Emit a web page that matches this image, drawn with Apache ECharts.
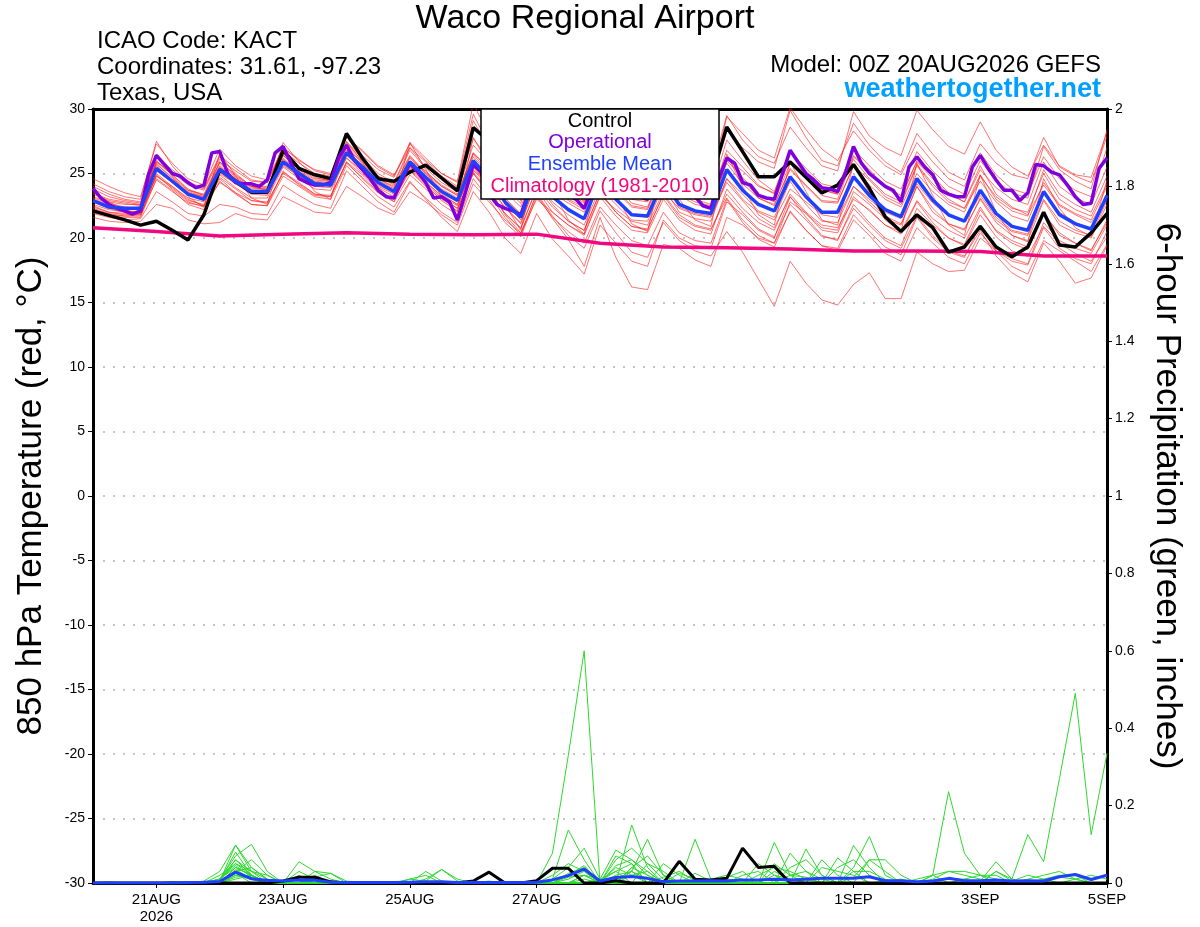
<!DOCTYPE html>
<html><head><meta charset="utf-8">
<script src="https://cdn.jsdelivr.net/npm/echarts@6/dist/echarts.min.js"></script>
<style>html,body{margin:0;padding:0;background:#fff}#c{width:1200px;height:927px}</style>
</head><body><div id="c"></div>
<script>
// ---- x axis (index in 6-hour steps from 00Z 20AUG2026) ----
const xTickValues = [4, 12, 20, 28, 36, 48, 56, 64];
const xTickLabels = ['21AUG\n2026', '23AUG', '25AUG', '27AUG', '29AUG', '1SEP', '3SEP', '5SEP'];

// ---- 850 hPa temperature, 6-hourly (65 values) ----
const control = [22.1,
 21.75,21.4,21.0,21.3, 20.6,19.85,21.8,25.3, 24.4,23.55,23.55,26.8, 25.4,24.9,24.6,28.1,
 26.2,24.6,24.4,25.1, 25.65,24.65,23.65,28.55, 27.5,26.0,25.0,27.8, 26.8,25.5,24.8,27.6,
 26.5,25.4,24.6,27.2, 26.0,25.0,24.5,28.6, 26.7,24.75,24.75,25.9, 24.7,23.5,24.1,25.7,
 23.85,21.65,20.5,21.8, 20.8,18.9,19.3,20.9, 19.3,18.55,19.3,22.0, 19.45,19.3,20.4,21.9];
const ensMean = [22.9,
 22.4,22.3,22.3,25.4, 24.4,23.4,23.0,25.3, 24.4,23.6,23.6,25.9, 25.0,24.2,24.1,26.6,
 25.5,24.3,23.6,25.9, 24.7,23.6,22.9,26.0, 24.6,22.8,21.6,25.0, 23.2,22.2,21.5,24.6,
 23.0,21.8,21.7,24.5, 22.6,22.1,21.9,25.3, 23.7,22.6,22.1,24.75, 23.2,22.0,22.0,24.75,
 23.3,22.2,21.65,24.6, 22.95,21.8,21.3,23.7, 21.9,20.9,20.6,23.6, 21.8,21.1,20.7,23.3];
// operational run, 3-hourly (129 values)
const operational = [
 23.85,23.1,22.6,22.3,22.1,21.85,22.1,24.9,26.4,25.7,25.0,24.8,24.3,23.9,24.1,26.6,
 26.7,25.0,24.3,24.2,24.2,24.0,24.5,26.6,27.1,25.8,24.6,24.3,24.1,24.1,24.3,26.2,
 27.2,26.0,25.3,24.6,23.7,23.2,23.1,24.5,25.8,25.1,24.3,23.1,23.2,22.8,21.4,23.5,
 25.7,25.1,23.4,22.6,22.3,22.1,21.8,23.6,25.6,25.0,24.2,23.6,23.3,23.0,22.3,23.8,
 25.8,25.2,24.5,24.0,23.5,23.2,23.0,24.0,25.9,25.2,24.4,23.8,23.2,22.5,22.3,24.6,
 26.2,25.8,24.3,24.1,23.3,23.1,23.0,24.9,26.8,25.9,25.0,24.5,23.9,23.8,23.6,25.1,
 27.1,25.8,25.0,24.5,24.0,23.7,22.8,25.5,26.3,25.5,24.9,23.7,23.4,23.2,23.2,25.5,
 26.4,25.4,24.5,23.7,23.7,22.9,23.5,25.7,25.6,25.1,24.9,24.1,23.2,22.6,22.7,25.4,
 26.2];
// climatology, daily at 00Z
const climoIdx = [0,4,8,12,16,20,24,28,32,36,40,44,48,52,56,60,64];
const climo = [20.8,20.5,20.15,20.3,20.4,20.3,20.25,20.3,19.6,19.3,19.25,19.15,19.0,19.0,18.95,18.6,18.6];

// ensemble members
const tMem01 = [24.6,
 24.0,23.5,23.2,27.3, 25.8,24.6,24.1,26.9, 25.6,24.8,24.5,27.0, 26.0,25.3,25.0,27.9,
 26.7,25.5,24.8,27.4, 26.2,25.0,24.3,29.6, 27.2,25.1,23.8,27.6, 25.9,24.3,23.4,26.9,
 25.1,23.7,23.2,26.4, 24.8,23.9,23.5,27.6, 26.0,24.5,23.6,26.8, 25.0,23.8,23.4,26.1,
 24.6,23.4,22.8,25.7, 24.2,23.0,22.3,24.9, 23.0,22.1,21.7,25.3, 23.4,22.6,22.0,24.8];
const tMem02 = [21.9,
 21.6,21.4,21.5,23.6, 22.8,21.9,21.7,22.6, 22.4,21.9,21.8,24.1, 23.3,22.6,22.3,25.2,
 24.0,22.8,22.0,24.3, 23.1,22.0,21.2,24.6, 23.0,21.2,20.1,23.2, 21.6,20.5,19.6,22.4,
 21.0,19.8,19.4,22.0, 20.4,19.8,19.6,23.0, 21.2,19.9,19.3,22.1, 20.6,19.4,19.2,21.8,
 20.5,19.3,18.7,21.6, 20.0,18.9,18.5,21.0, 19.0,18.2,17.9,20.8, 19.2,18.4,18.0,20.5];
const tMem03 = [23.2,
 22.8,22.6,22.6,26.0, 24.9,23.8,23.3,25.9, 24.9,24.0,24.0,26.5, 25.5,24.6,24.5,27.2,
 26.0,24.8,24.2,26.8, 25.4,24.3,23.6,27.2, 25.8,24.0,22.9,26.6, 24.9,23.8,23.1,26.5,
 25.0,23.9,23.8,27.0, 25.3,24.7,24.5,28.4, 27.0,25.9,25.4,29.9, 27.8,26.0,25.6,28.9,
 27.2,25.9,25.1,28.1, 26.5,25.1,24.5,27.3, 25.8,24.9,24.6,27.8, 25.5,24.8,24.3,27.9];
const tMem04 = [22.5,
 22.0,21.9,21.8,25.0, 24.0,23.0,22.5,24.7, 23.8,22.9,22.7,25.1, 24.3,23.4,23.2,25.9,
 24.6,23.5,22.8,24.9, 23.8,22.6,21.8,25.0, 23.4,21.6,20.2,23.5, 21.7,20.2,19.2,22.1,
 20.4,18.9,18.5,21.2, 19.8,19.0,18.6,20.5, 18.9,16.8,14.7,18.2, 16.5,15.2,14.8,16.4,
 17.3,15.3,15.3,18.9, 18.0,17.4,17.5,20.0, 19.0,18.4,18.0,21.2, 19.8,19.2,18.8,21.0];
const tMem05 = [23.6,
 22.8,22.2,21.9,26.5, 24.8,23.2,22.4,26.6, 24.8,23.1,22.6,26.9, 25.2,23.6,23.0,27.5,
 25.9,23.9,22.8,27.4, 25.3,23.2,22.0,27.8, 25.6,22.6,20.6,26.0, 23.7,21.4,20.3,25.6,
 23.4,21.1,20.5,25.8, 23.0,21.4,20.9,26.5, 24.0,21.8,21.0,25.9, 23.6,21.4,21.0,25.7,
 23.5,21.4,20.5,25.8, 23.3,21.0,20.2,24.9, 22.0,20.2,19.7,24.6, 22.3,20.8,20.1,24.5];
const tMem06 = [22.8,
 22.3,22.0,22.1,24.8, 24.0,23.1,22.8,25.0, 24.2,23.5,23.4,25.6, 24.8,24.1,24.0,26.2,
 25.2,24.1,23.5,25.6, 24.3,23.3,22.6,25.5, 24.0,22.4,21.2,24.3, 22.8,21.8,21.0,23.9,
 22.6,21.4,21.3,24.0, 22.0,21.5,21.3,24.6, 23.4,22.1,21.6,24.4, 22.6,21.3,21.2,24.0,
 22.8,21.7,21.1,24.0, 22.3,21.1,20.7,23.0, 21.2,20.2,19.8,22.9, 21.0,20.4,20.0,22.6];
const tMem07 = [23.8,
 23.2,22.9,22.7,25.9, 25.1,24.1,23.7,26.1, 25.2,24.4,24.3,26.8, 25.8,25.0,24.8,27.4,
 26.4,25.3,24.7,27.3, 26.0,25.0,24.4,30.4, 28.0,25.5,24.0,27.1, 25.4,24.0,22.8,25.6,
 24.2,22.7,22.4,25.2, 23.6,23.0,22.6,26.3, 24.6,23.1,22.5,25.4, 24.1,22.9,22.8,25.6,
 24.5,23.2,22.6,25.6, 24.0,22.8,22.3,24.4, 22.8,21.7,21.3,24.3, 22.6,21.9,21.4,24.0];
const tMem08 = [22.2,
 21.8,21.7,21.7,24.9, 23.8,22.8,22.4,24.6, 23.5,22.6,22.5,24.8, 24.0,23.2,23.0,25.6,
 24.4,23.2,22.4,24.4, 23.0,21.6,20.5,23.6, 22.0,20.0,18.8,21.9, 19.9,18.6,17.2,21.0,
 19.6,18.2,17.8,21.4, 20.0,19.4,19.2,22.8, 21.8,20.6,20.0,23.2, 21.6,20.2,19.8,22.6,
 21.2,20.0,19.4,22.3, 21.0,20.0,19.5,22.2, 20.6,19.8,19.3,22.0, 20.2,19.6,19.0,21.4];
const tMem09 = [23.4,
 22.9,22.7,22.5,25.7, 24.7,23.7,23.3,25.6, 24.6,23.8,23.8,26.2, 25.1,24.3,24.2,26.7,
 25.7,24.6,24.0,26.4, 25.0,24.0,23.3,26.6, 25.4,23.8,22.7,26.8, 25.3,24.6,24.0,27.9,
 26.3,25.1,24.8,28.1, 26.0,25.3,25.0,29.5, 27.6,26.3,25.8,28.6, 27.0,25.6,25.2,29.8,
 27.9,27.0,26.4,29.9, 28.4,27.1,26.5,29.0, 26.8,25.5,24.8,27.2, 25.6,24.9,24.7,28.2];
const tMem10 = [22.6,
 22.2,22.0,22.0,25.2, 24.3,23.3,22.9,25.1, 24.2,23.4,23.3,25.7, 24.8,24.0,23.9,26.4,
 25.3,24.0,23.4,25.5, 24.4,23.2,22.5,25.6, 24.1,22.3,21.1,24.4, 22.6,21.3,20.6,23.6,
 22.0,20.9,20.6,23.4, 21.8,21.0,20.7,23.1, 21.4,20.2,19.6,22.0, 20.6,19.4,19.0,21.4,
 20.2,18.8,18.2,20.8, 19.6,18.5,18.0,20.4, 19.0,17.8,17.2,19.8, 19.0,18.2,17.4,19.5];
const tMem11 = [23.0,
 22.6,22.3,22.4,25.6, 24.5,23.5,23.2,25.5, 24.6,23.7,23.6,26.1, 25.2,24.3,24.2,26.8,
 25.6,24.5,23.8,26.2, 25.0,23.8,23.1,26.3, 24.9,23.1,21.9,25.4, 23.8,22.9,22.2,25.3,
 23.6,22.4,22.2,25.0, 23.4,22.8,22.5,25.8, 24.2,23.1,22.6,25.3, 24.0,22.8,22.7,25.6,
 24.1,23.0,22.4,25.0, 23.6,22.6,22.0,24.8, 23.2,22.3,22.0,25.0, 23.0,22.2,21.7,24.2];
const tMem12 = [22.3,
 21.9,21.7,21.8,24.5, 23.6,22.7,22.5,24.3, 23.5,22.9,22.8,25.0, 24.2,23.4,23.3,25.8,
 24.7,23.6,23.0,25.2, 24.0,23.0,22.3,25.0, 23.6,21.9,20.8,23.8, 22.0,21.0,20.2,23.2,
 21.7,20.6,20.4,23.0, 21.4,20.6,20.3,23.8, 22.3,21.2,20.6,23.4, 22.0,21.0,20.8,23.0,
 22.2,21.0,20.5,22.9, 21.5,20.6,20.0,22.4, 20.5,19.6,19.1,21.8, 20.4,19.6,19.1,21.2];
const tMem13 = [24.2,
 23.6,23.2,23.0,27.5, 25.6,24.2,23.8,26.3, 25.0,24.0,23.7,27.4, 25.9,24.7,24.4,27.3,
 26.2,25.0,24.3,27.0, 25.5,24.6,23.9,27.7, 26.1,24.2,23.0,26.1, 24.3,23.0,22.4,25.1,
 23.8,22.5,22.3,25.2, 23.3,22.6,22.4,26.0, 24.7,23.4,22.8,25.8, 24.6,23.3,23.0,26.3,
 25.2,23.9,23.1,26.0, 24.8,23.5,22.8,25.6, 23.4,22.4,21.8,24.1, 22.5,21.8,21.2,23.3];
const tMem14 = [21.6,
 21.3,21.2,21.3,22.6, 22.3,21.4,21.1,21.2, 21.9,21.5,21.4,23.2, 22.6,22.0,21.9,24.0,
 23.2,22.3,21.8,23.6, 22.8,21.8,21.0,24.2, 22.8,21.4,20.4,23.0, 22.0,21.0,20.3,23.3,
 22.2,21.3,21.0,23.6, 22.3,21.8,21.6,24.6, 23.0,22.0,21.4,23.8, 22.8,21.8,21.6,24.0,
 23.0,22.0,21.5,24.2, 22.7,21.7,21.3,23.3, 21.6,20.6,20.3,23.5, 22.0,21.2,20.7,23.2];
const tMem15 = [22.9,
 22.4,22.2,22.3,25.3, 24.4,23.4,23.0,25.4, 24.5,23.7,23.6,26.0, 25.1,24.3,24.1,26.6,
 25.5,24.3,23.6,25.8, 24.6,23.4,22.6,25.3, 23.9,21.8,20.4,23.4, 21.5,19.9,17.8,21.6,
 18.5,16.2,16.0,19.5, 19.2,18.3,17.8,21.6, 21.0,20.0,19.6,22.8, 21.9,20.8,20.6,23.6,
 22.6,21.5,21.0,24.0, 22.0,21.1,20.6,23.1, 21.4,20.5,20.2,23.0, 21.3,20.6,20.2,22.9];
const tMem16 = [23.1,
 22.7,22.4,22.3,25.9, 24.9,23.7,23.4,25.9, 24.8,24.0,23.9,26.4, 25.4,24.5,24.4,27.0,
 25.9,24.8,24.1,26.3, 25.1,24.1,23.4,26.6, 25.3,23.6,22.4,25.7, 24.6,23.5,22.9,26.2,
 24.9,23.6,23.3,26.7, 25.4,24.6,24.1,29.4, 28.1,26.8,26.2,30.1, 28.4,26.9,26.0,28.3,
 26.8,25.6,24.9,27.4, 25.9,24.6,24.0,26.6, 24.9,23.8,23.4,26.3, 24.6,23.7,23.2,27.0];
const tMem17 = [22.0,
 21.7,21.6,21.6,24.6, 23.7,22.6,22.2,24.4, 23.4,22.6,22.5,25.2, 24.1,23.3,23.2,25.9,
 24.9,23.7,23.0,25.3, 24.1,22.9,22.1,25.2, 24.4,22.7,21.4,24.6, 23.5,22.7,22.0,24.9,
 22.9,21.8,21.6,24.1, 22.4,21.9,21.7,24.3, 22.9,21.5,20.8,23.2, 21.9,20.6,20.4,23.2,
 22.1,21.0,20.3,22.8, 21.2,20.0,19.4,21.8, 20.1,19.0,18.6,20.9, 19.6,18.8,18.2,20.1];
const tMem18 = [24.0,
 23.4,23.0,22.8,26.3, 25.3,24.3,23.9,26.4, 25.4,24.5,24.3,27.0, 26.1,25.2,24.9,27.8,
 26.8,25.6,24.9,27.0, 25.9,24.8,24.0,29.1, 27.0,25.1,23.7,26.4, 25.0,23.6,22.7,25.5,
 24.2,23.0,22.8,25.4, 24.0,23.4,23.1,26.1, 25.2,24.0,23.5,26.6, 25.4,24.2,23.9,26.9,
 25.6,24.4,23.8,26.7, 25.2,24.0,23.4,26.0, 24.4,23.5,23.1,27.1, 25.3,24.4,23.8,28.4];
const tMem19 = [22.4,
 22.0,21.8,21.9,24.8, 23.9,22.9,22.6,24.9, 23.9,23.1,23.1,25.5, 24.6,23.8,23.7,26.2,
 25.0,23.9,23.2,25.4, 24.2,23.1,22.3,25.1, 23.7,21.9,20.7,23.9, 22.4,21.3,20.6,23.5,
 22.0,20.9,20.7,23.3, 21.6,20.9,20.6,23.4, 22.0,20.7,20.1,22.6, 21.4,20.1,19.9,22.3,
 21.0,19.8,19.2,21.7, 20.2,19.0,18.6,20.6, 18.6,17.3,16.6,19.6, 18.2,16.5,16.9,19.4];
const tMem20 = [23.5,
 23.0,22.8,22.6,25.8, 24.6,23.6,23.2,25.8, 24.7,23.9,23.8,26.4, 25.3,24.4,24.3,27.0,
 25.8,24.6,23.9,26.0, 25.2,24.0,23.3,26.5, 25.0,23.0,21.8,25.6, 24.2,23.2,22.5,25.8,
 24.4,23.2,22.9,25.9, 24.1,23.4,23.1,26.8, 25.5,24.1,23.4,26.0, 25.0,23.7,23.4,26.4,
 25.3,24.0,23.3,25.9, 24.6,23.4,22.8,25.3, 23.9,23.0,22.6,25.9, 24.0,23.1,22.6,25.5];
const tempMembers = [tMem01,tMem02,tMem03,tMem04,tMem05,tMem06,tMem07,tMem08,tMem09,tMem10,
                     tMem11,tMem12,tMem13,tMem14,tMem15,tMem16,tMem17,tMem18,tMem19,tMem20];

// ---- 6-hour precipitation (inches), 65 values ----
const pControl = [0,
 0,0,0,0, 0,0,0,0, 0,0,0,.005, .015,.015,.003,0,
 0,0,0,0, 0,0,0,.005, .028,0,0,.006, .038,.038,0,0,
 .006,0,0,0, .056,.01,.008,.012, .09,.04,.043,0, 0,0,0,0,
 0,0,0,0, 0,0,0,0, 0,0,0,0, 0,0,0,0];
const pMean = [0,
 0,0,0,0, 0,.001,.002,.004, .028,.011,.007,.005, .008,.007,.002,.001,
 .001,.001,.001,.002, .003,.003,.001,.001, .001,.001,.001,.002, .008,.019,.036,.005,
 .014,.017,.012,.003, .005,.005,.006,.005, .008,.008,.01,.008, .01,.012,.012,.012,
 .016,.006,.006,.003, .005,.012,.006,.006, .008,.005,.006,.005, .016,.022,.009,.02];
const pMem01 = [0,
 0,0,0,0, 0,0,0,.01, .04,.02,0,0, 0,0,0,0,
 0,0,0,0, 0,0,0,0, 0,0,0,0, .077,.33,.6,0,
 0,0,0,0, 0,0,0,0, 0,0,.03,.01, 0,0,0,0,
 0,0,0,0, 0,0,0,0, 0,0,0,0, 0,0,0,0];
const pMem02 = [0,
 0,0,0,0, 0,0,0,.005, .098,.03,0,0, .02,0,0,0,
 0,0,0,0, 0,0,0,0, 0,0,0,0, .01,.137,.06,0,
 0,.15,.04,0, 0,.113,.01,0, 0,0,0,0, 0,0,0,.04,
 .12,.02,0,0, 0,0,0,0, 0,0,0,0, 0,0,0,0];
const pMem03 = [0,
 0,0,0,0, 0,0,0,.01, .07,.1,.03,0, 0,.03,.025,0,
 0,0,0,0, 0,0,0,0, 0,0,0,0, 0,0,0,.01,
 .085,.06,.02,0, 0,0,0,0, 0,0,.105,.02, 0,0,0,0,
 0,0,0,0, 0,0,0,0, 0,0,0,0, 0,0,0,0];
const pMem04 = [0,
 0,0,0,0, 0,0,0,0, .03,.01,0,0, 0,0,0,0,
 0,0,0,0, .01,.035,.005,0, 0,0,0,0, 0,0,0,0,
 0,0,0,0, 0,0,0,0, 0,0,0,0, 0,0,0,0,
 0,0,0,0, 0,0,0,.005, .055,.01,.125,.055, .27,.49,.125,.335];
const pMem05 = [0,
 0,0,0,0, 0,0,0,.02, .05,.02,0,0, 0,0,0,0,
 0,0,0,0, .03,.005,0,0, 0,0,0,0, 0,0,0,0,
 0,0,0,0, 0,0,0,0, 0,0,0,0, 0,.06,.02,0,
 0,0,0,0, .02,.236,.077,.02, .01,0,0,0, 0,0,0,0];
const pMem06 = [0,
 0,0,0,0, 0,0,.005,.03, .098,.04,.01,0, .055,.03,.01,0,
 0,0,0,0, 0,0,0,0, 0,0,0,0, 0,0,0,0,
 0,.03,.113,.02, 0,0,0,0, .02,.03,0,0, .088,.02,0,0,
 0,0,0,0, 0,0,0,0, 0,0,0,0, 0,0,0,0];
const pMem07 = [0,
 0,0,0,0, 0,0,0,0, .02,.015,0,0, 0,0,0,0,
 0,0,0,.01, .005,.035,.01,0, 0,0,0,0, .02,.05,.03,0,
 .07,.05,0,0, 0,0,0,0, 0,0,0,0, 0,0,.065,.03,
 0,0,0,0, 0,0,0,0, .03,.01,0,0, 0,0,0,0];
const pMem08 = [0,
 0,0,0,0, 0,0,0,0, .04,.02,0,0, 0,0,0,0,
 0,0,0,0, 0,0,0,0, 0,0,0,0, 0,.02,.045,0,
 .045,.06,.03,0, 0,0,0,.015, .03,0,0,.077, .03,0,0,0,
 .06,.06,.02,0, 0,0,0,0, 0,0,0,0, 0,0,0,0];
const pMem09 = [0,
 0,0,0,0, 0,0,0,.005, .06,.03,.01,0, 0,.02,0,0,
 0,0,0,0, 0,0,0,0, 0,0,0,0, .01,.04,.09,.01,
 0,0,0,.05, .02,0,0,0, 0,0,0,0, 0,0,0,.097,
 .04,0,0,0, .01,.03,.03,.02, 0,0,0,0, 0,0,0,0];
const pMem10 = [0,
 0,0,0,0, 0,0,0,0, .03,.06,.02,0, 0,0,0,0,
 0,0,0,0, 0,0,0,0, 0,0,0,0, 0,0,0,0,
 0,.04,.07,.02, 0,0,0,0, 0,0,.05,.02, .015,0,0,0,
 0,0,0,.01, .02,0,0,0, 0,0,0,.01, .02,.02,0,0];
const pMem11 = [0,
 0,0,0,0, 0,0,0,.01, .045,.015,0,0, .01,0,0,0,
 0,0,0,0, 0,0,0,0, 0,0,0,0, 0,0,.02,.01,
 .03,.05,0,0, 0,.025,.005,0, 0,.05,.02,0, 0,0,0,0,
 0,0,0,0, 0,0,0,0, .03,.005,0,0, 0,0,0,0];
const pMem12 = [0,
 0,0,0,0, 0,0,0,0, .01,.02,0,0, 0,0,0,0,
 0,0,0,0, 0,0,0,0, .005,0,0,0, 0,.01,.03,0,
 0,0,0,0, .025,.01,0,0, 0,0,0,0, 0,.04,.03,.02,
 0,0,0,0, 0,0,.01,.02, .02,0,0,0, .015,.01,0,0];
const pMem13 = [0,
 .003,0,0,0, 0,0,0,0, .035,.01,0,0, 0,.01,.005,0,
 0,0,0,0, 0,0,0,0, 0,0,0,0, 0,0,0,0,
 .02,.03,0,0, 0,0,0,.01, .005,0,0,.04, .06,.02,0,0,
 0,0,0,0, 0,0,0,0, 0,0,0,0, 0,0,0,0];
const pMem14 = [0,
 0,0,0,0, .004,0,0,0, .025,0,0,0, 0,0,0,0,
 0,0,0,0, 0,0,0,.003, 0,0,0,0, 0,.025,.04,0,
 .06,.09,.05,.01, 0,0,0,0, 0,0,0,0, 0,0,0,.03,
 .03,.01,0,0, 0,0,0,0, 0,0,0,0, 0,0,0,0];
const pMem15 = [0,
 0,0,0,0, 0,0,0,0, .015,.02,0,0, 0,0,0,0,
 0,0,0,.01, .02,0,0,0, 0,0,0,0, 0,0,0,.005,
 .03,0,.05,.03, 0,0,0,0, 0,.02,.04,.03, .01,0,0,0,
 0,0,0,0, 0,0,0,0, 0,0,0,0, 0,0,0,0];
const pMem16 = [0,
 0,0,0,0, 0,0,0,.01, .05,.03,.02,0, .03,.01,0,0,
 0,0,0,0, 0,0,0,0, 0,0,0,0, 0,0,.02,0,
 0,.04,.02,0, 0,0,0,0, 0,0,0,0, 0,0,.04,.06,
 .02,0,0,0, 0,0,0,0, 0,0,.01,.02, .03,.01,0,0];
const pMem17 = [0,
 0,0,0,0, 0,0,0,0, .02,.01,0,0, 0,0,0,0,
 0,0,0,0, 0,0,0,0, 0,0,0,0, 0,0,0,0,
 0,.02,.03,0, 0,0,.01,.02, .01,0,0,0, 0,0,0,0,
 0,0,0,0, .005,.01,.01,0, 0,0,0,0, 0,0,0,0];
const pMem18 = [0,
 0,0,0,0, 0,0,0,.01, .06,.02,0,0, 0,0,0,0,
 0,0,0,0, 0,0,0,0, 0,0,0,0, 0,0,.01,0,
 .04,.02,0,0, 0,0,0,0, 0,0,0,.02, .03,.01,0,0,
 0,.005,.01,0, 0,0,0,0, 0,.005,.02,.01, 0,0,0,0];
const pMem19 = [0,
 0,0,0,0, 0,0,0,0, .03,.04,.01,0, 0,0,0,0,
 0,0,0,0, 0,0,0,0, 0,0,0,0, 0,.015,.02,0,
 0,0,0,.015, .03,.005,0,0, 0,0,0,0, 0,0,0,.015,
 .06,.03,0,0, 0,0,0,0, 0,0,0,0, 0,0,0,0];
const pMem20 = [0,
 0,0,0,0, 0,0,0,.005, .08,.02,0,0, 0,.015,.025,.005,
 0,0,0,0, 0,0,0,0, 0,0,0,0, 0,0,0,0,
 .01,.03,.01,0, 0,0,0,0, 0,0,.02,.01, 0,0,0,0,
 0,0,0,0, .02,.03,.02,.01, 0,0,0,0, 0,.01,.02,.01];
const precipMembers = [pMem01,pMem02,pMem03,pMem04,pMem05,pMem06,pMem07,pMem08,pMem09,pMem10,
                       pMem11,pMem12,pMem13,pMem14,pMem15,pMem16,pMem17,pMem18,pMem19,pMem20];

// ---------------------------------------------------------------
const FONT = '"Liberation Sans", Arial, Helvetica, sans-serif';
const toPts = (arr, step) => arr.map((v, i) => [i * step, v]);
const series = [];
tempMembers.forEach(m => series.push({
  type: 'line', yAxisIndex: 0, data: toPts(m, 1), symbol: 'none', silent: true,
  lineStyle: { color: 'rgba(255,30,30,0.62)', width: 1 }
}));
precipMembers.forEach(m => series.push({
  type: 'line', yAxisIndex: 1, data: toPts(m, 1), symbol: 'none', silent: true,
  lineStyle: { color: '#2ed82e', width: 1 }
}));
series.push({ type: 'line', yAxisIndex: 0, data: climoIdx.map((x, k) => [x, climo[k]]), symbol: 'none',
  lineStyle: { color: '#f0087f', width: 3.5 } });
series.push({ type: 'line', yAxisIndex: 0, data: toPts(control, 1), symbol: 'none',
  lineStyle: { color: '#000000', width: 3.5 } });
series.push({ type: 'line', yAxisIndex: 0, data: toPts(operational, 0.5), symbol: 'none',
  lineStyle: { color: '#8000dd', width: 3.5 } });
series.push({ type: 'line', yAxisIndex: 0, data: toPts(ensMean, 1), symbol: 'none',
  lineStyle: { color: '#2040ff', width: 3.5 } });
series.push({ type: 'line', yAxisIndex: 1, data: toPts(pControl, 1), symbol: 'none',
  lineStyle: { color: '#000000', width: 3 } });
series.push({ type: 'line', yAxisIndex: 1, data: toPts(pMean, 1), symbol: 'none',
  lineStyle: { color: '#2040ff', width: 3 } });

const txt = (x, y, text, size, align, color, weight) => ({
  type: 'text', x, y, z: 200,
  style: { text, fill: color || '#000', fontSize: size, fontFamily: FONT, fontWeight: weight || 'normal',
           textAlign: align, textVerticalAlign: 'middle', align: align, verticalAlign: 'middle' }
});

const option = {
  animation: false,
  backgroundColor: '#ffffff',
  grid: { left: 93, right: 93, top: 109, bottom: 44, show: false,
          containLabel: false, outerBoundsMode: 'none' },
  xAxis: [
    {
      type: 'value', min: 0, max: 64, position: 'bottom',
      axisLine: { show: true, onZero: false, lineStyle: { color: '#000', width: 3 } },
      axisTick: { show: true, customValues: xTickValues, length: 5, inside: false, lineStyle: { color: '#000', width: 1 } },
      axisLabel: { show: true, customValues: xTickValues, color: '#000', fontSize: 15, fontFamily: FONT,
                   lineHeight: 17, margin: 8,
                   formatter: v => { const k = xTickValues.indexOf(v); return k >= 0 ? xTickLabels[k] : ''; } },
      splitLine: { show: false }
    },
    {
      type: 'value', min: 0, max: 64, position: 'top',
      axisLine: { show: true, onZero: false, lineStyle: { color: '#000', width: 3 } },
      axisTick: { show: false }, axisLabel: { show: false }, splitLine: { show: false }
    }
  ],
  yAxis: [
    {
      type: 'value', min: -30, max: 30, interval: 5, position: 'left',
      name: '850 hPa Temperature (red, °C)', nameLocation: 'middle', nameGap: 44,
      nameTextStyle: { fontSize: 35, color: '#000', fontFamily: FONT },
      axisLine: { show: true, onZero: false, lineStyle: { color: '#000', width: 3 } },
      axisTick: { show: true, length: 5, lineStyle: { color: '#000', width: 1 } },
      axisLabel: { color: '#000', fontSize: 14, fontFamily: FONT, margin: 8 },
      splitLine: { show: true, lineStyle: { color: '#b4b4b4', type: [2, 8], width: 1.5 } }
    },
    {
      type: 'value', min: 0, max: 2, interval: 0.2, position: 'right',
      name: '6-hour Precipitation (green, inches)', nameLocation: 'middle', nameGap: 42, nameRotate: -90,
      nameTextStyle: { fontSize: 35, color: '#000', fontFamily: FONT },
      axisLine: { show: true, onZero: false, lineStyle: { color: '#000', width: 3 } },
      axisTick: { show: true, length: 5, lineStyle: { color: '#000', width: 1 } },
      axisLabel: { color: '#000', fontSize: 14, fontFamily: FONT, margin: 8,
                   formatter: v => String(Math.round(v * 10) / 10) },
      splitLine: { show: false }
    }
  ],
  series,
  graphic: [
    txt(585, 19, 'Waco Regional Airport', 34, 'center'),
    txt(97, 41, 'ICAO Code: KACT', 24, 'left'),
    txt(97, 67, 'Coordinates: 31.61, -97.23', 24, 'left'),
    txt(97, 93, 'Texas, USA', 24, 'left'),
    txt(1101, 65, 'Model: 00Z 20AUG2026 GEFS', 24, 'right'),
    txt(1101, 90, 'weathertogether.net', 27, 'right', '#00a0ff', 'bold'),
    { type: 'rect', z: 150, shape: { x: 481, y: 109, width: 238, height: 90 },
      style: { fill: '#ffffff', stroke: '#000000', lineWidth: 1.5 } },
    txt(600, 121, 'Control', 20, 'center', '#000000'),
    txt(600, 142.5, 'Operational', 20, 'center', '#8000dd'),
    txt(600, 164, 'Ensemble Mean', 20, 'center', '#2040ff'),
    txt(600, 186, 'Climatology (1981-2010)', 20, 'center', '#f0087f')
  ]
};
const chart = echarts.init(document.getElementById('c'));
chart.setOption(option);
</script>
</body></html>
